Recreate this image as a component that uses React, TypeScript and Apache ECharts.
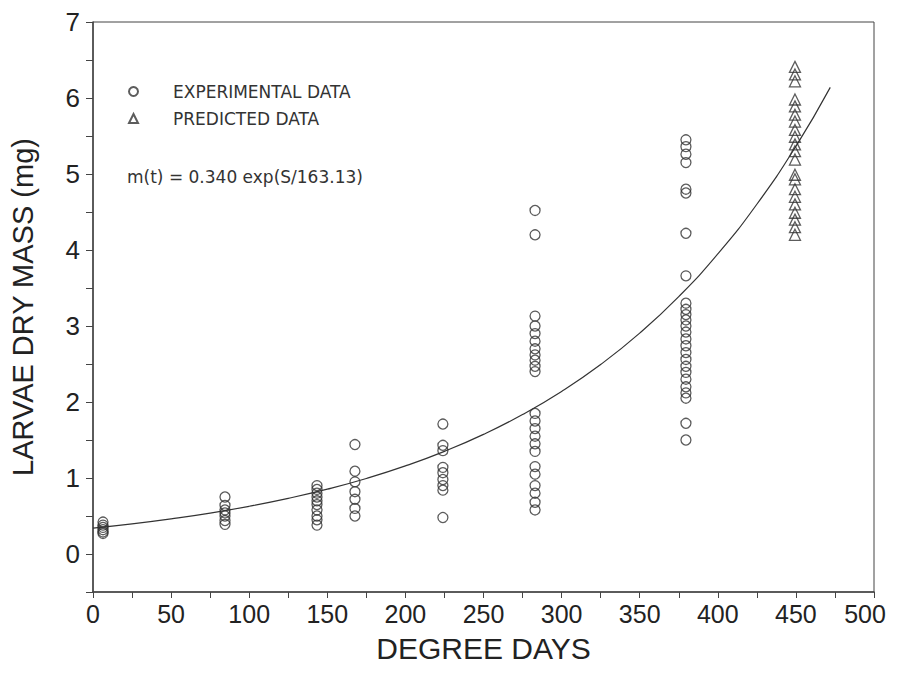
import React, { useEffect, useRef } from "react";
import * as echarts from "echarts";

const expDegreeDays = [6.4, 84.5, 143.4, 167.7, 224, 283, 379.6];
const expMass: number[][] = [
  [0.42, 0.38, 0.35, 0.32, 0.29, 0.27],
  [0.75, 0.64, 0.58, 0.54, 0.5, 0.44, 0.39],
  [0.9, 0.85, 0.8, 0.75, 0.7, 0.65, 0.58, 0.5, 0.45, 0.38],
  [1.44, 1.09, 0.95, 0.82, 0.72, 0.6, 0.5],
  [1.71, 1.43, 1.36, 1.14, 1.07, 0.98, 0.9, 0.84, 0.48],
  [4.52, 4.2, 3.13, 3.0, 2.9, 2.8, 2.7, 2.62, 2.55, 2.47, 2.4, 1.85, 1.75, 1.65, 1.55, 1.45, 1.35, 1.15, 1.05, 0.9, 0.8, 0.68, 0.58],
  [5.45, 5.36, 5.26, 5.15, 4.8, 4.75, 4.22, 3.66, 3.3, 3.22, 3.15, 3.08, 3.0, 2.92, 2.83, 2.74, 2.65, 2.56, 2.47, 2.39, 2.3, 2.2, 2.12, 2.05, 1.72, 1.5],
];

// Predicted data
const predDegreeDays = 449.4;
const predMass = [6.41, 6.31, 6.22, 5.98, 5.89, 5.78, 5.69, 5.58, 5.49, 5.39, 5.3, 5.19, 4.99, 4.93, 4.8, 4.7, 4.6, 4.49, 4.4, 4.3, 4.2];

// Fitted curve points
const curveS = [0, 25, 50, 75, 100, 125, 150, 175, 200, 225, 250, 275, 300, 325, 350, 375, 400, 425, 450, 472];
const curveMass = [0.34, 0.396, 0.462, 0.538, 0.628, 0.732, 0.853, 0.994, 1.159, 1.351, 1.574, 1.835, 2.139, 2.493, 2.906, 3.387, 3.948, 4.602, 5.364, 6.14];

const xTickLabels = ["0", "50", "100", "150", "200", "250", "300", "350", "400", "450", "500"];
const yTickLabels = ["0", "1", "2", "3", "4", "5", "6", "7"];

const legendLabels = ["EXPERIMENTAL DATA", "PREDICTED DATA"];
const equationText = "m(t) = 0.340 exp(S/163.13)";

export default function App() {
  const ref = useRef<HTMLDivElement>(null);
  useEffect(() => {
    if (!ref.current) return;
    const chart = echarts.init(ref.current, null, { renderer: "svg" });
    const expPoints: number[][] = [];
    expDegreeDays.forEach((d, i) => expMass[i].forEach((m) => expPoints.push([d, m])));
    const predPoints = predMass.map((m) => [predDegreeDays, m]);
    const curvePoints = curveS.map((s, i) => [s, curveMass[i]]);
    const font = "Liberation Sans, Arial, sans-serif";
    const smallFont = "DejaVu Sans, sans-serif";
    chart.setOption({
      animation: false,
      backgroundColor: "#fff",
      textStyle: { fontFamily: font },
      grid: {
        left: 93,
        right: 25,
        top: 22,
        bottom: 98,
        containLabel: false,
        outerBoundsMode: "none",
        show: true,
        borderColor: "#444",
        borderWidth: 1,
      },
      legend: {
        left: 123,
        top: 78,
        orient: "vertical",
        data: legendLabels,
        itemWidth: 9,
        itemHeight: 9,
        itemGap: 10,
        textStyle: {
          fontFamily: smallFont,
          fontSize: 17,
          color: "#333",
          padding: [0, 0, 0, 30],
        },
      },
      graphic: [
        {
          type: "text",
          left: 127,
          top: 168,
          style: {
            text: equationText,
            fontFamily: smallFont,
            fontSize: 17,
            fill: "#333",
          },
        },
      ],
      xAxis: {
        type: "value",
        min: 0,
        max: 500,
        interval: 25,
        name: "DEGREE DAYS",
        nameLocation: "middle",
        nameGap: 41,
        nameTextStyle: { fontSize: 30, color: "#222", fontFamily: font },
        axisLine: { show: true, onZero: false, lineStyle: { color: "#444", width: 1.5 } },
        axisTick: { show: true, inside: false, length: 6, lineStyle: { color: "#444" } },
        axisLabel: {
          fontSize: 25,
          color: "#222",
          margin: 9,
          formatter: (v: number) => {
            if (v % 50 !== 0) return "";
            const label = xTickLabels[v / 50];
            return v === 500 ? "{last|" + label + "}" : label;
          },
          rich: {
            last: { fontSize: 25, color: "#222", fontFamily: font, padding: [0, 18, 0, 0] },
          },
        },
        splitLine: { show: false },
      },
      yAxis: {
        type: "value",
        min: -0.5,
        max: 7,
        interval: 0.5,
        name: "LARVAE DRY MASS (mg)",
        nameLocation: "middle",
        nameGap: 56,
        nameTextStyle: { fontSize: 29, color: "#222", fontFamily: font },
        axisLine: { show: true, onZero: false, lineStyle: { color: "#444", width: 1.5 } },
        axisTick: { show: true, inside: false, length: 7, lineStyle: { color: "#444" } },
        axisLabel: {
          fontSize: 26,
          color: "#222",
          margin: 13,
          formatter: (v: number) => (Number.isInteger(v) && v >= 0 ? yTickLabels[v] : ""),
        },
        splitLine: { show: false },
      },
      series: [
        {
          name: "FIT",
          type: "line",
          data: curvePoints,
          smooth: true,
          symbol: "none",
          lineStyle: { color: "#333", width: 1.2 },
          z: 1,
        },
        {
          name: legendLabels[0],
          type: "scatter",
          data: expPoints,
          symbol: "circle",
          symbolSize: 10,
          itemStyle: { color: "rgba(0,0,0,0)", borderColor: "#333", borderWidth: 1.3 },
          z: 2,
        },
        {
          name: legendLabels[1],
          type: "scatter",
          data: predPoints,
          symbol: "triangle",
          symbolSize: 11,
          itemStyle: { color: "rgba(0,0,0,0)", borderColor: "#333", borderWidth: 1.3 },
          z: 3,
        },
      ],
    });
    return () => chart.dispose();
  }, []);
  return <div ref={ref} style={{ width: 899, height: 690, margin: -8 }} />;
}
